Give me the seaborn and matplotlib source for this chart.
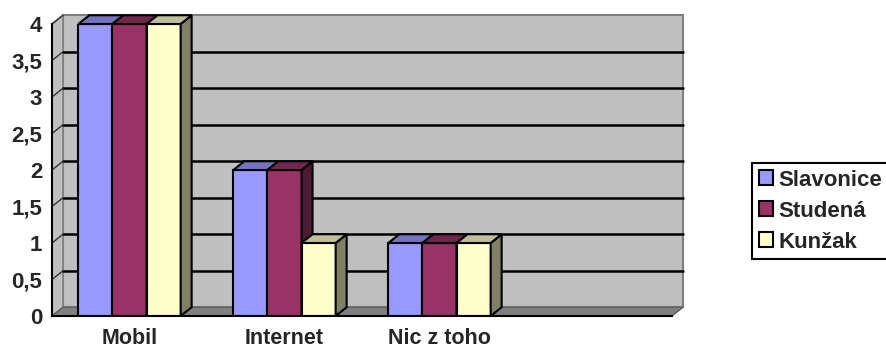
import matplotlib
matplotlib.use("Agg")
import matplotlib.pyplot as plt
import numpy as np
import pandas as pd
import seaborn as sns
from matplotlib.patches import Polygon, Patch
from matplotlib.ticker import FuncFormatter

# data
categories = ["Mobil", "Internet", "Nic z toho", " "]
series = ["Slavonice", "Studená", "Kunžak"]
slavonice = [4, 2, 1]
studena = [4, 2, 1]
kunzak = [4, 1, 1]

front_colors = ["#9999FF", "#993366", "#FFFFCC"]
top_colors = ["#7373BF", "#73264D", "#BFBF99"]
side_colors = ["#4D4D80", "#4D1A33", "#808066"]

rows = []
for name, vals in zip(series, [slavonice, studena, kunzak]):
    for cat, v in zip(categories[:3], vals):
        rows.append({"kategorie": cat, "obec": name, "pocet": v})
df = pd.DataFrame(rows)

sns.set_style("white")
plt.rcParams["font.family"] = ["Liberation Sans", "DejaVu Sans"]
plt.rcParams["font.weight"] = "bold"

fig = plt.figure(figsize=(8.87, 3.49), dpi=100)
ax = fig.add_axes([52 / 887, 33 / 349, 620 / 887, 292 / 349])

sns.barplot(data=df, x="kategorie", y="pocet", hue="obec", order=categories,
            hue_order=series, palette=front_colors, saturation=1, width=0.66, gap=0,
            edgecolor="black", linewidth=1.5, legend=False, ax=ax)

ymax = 4
dx, dy = 0.071, 0.12
x_lo, x_hi = -0.5, len(categories) - 0.5
ax.set_xlim(x_lo, x_hi)
ax.set_ylim(0, ymax)

# walls and floor
back = Polygon([(x_lo + dx, dy), (x_hi + dx, dy), (x_hi + dx, ymax + dy), (x_lo + dx, ymax + dy)],
               closed=True, facecolor="#C0C0C0", edgecolor="#808080", lw=1.5, zorder=0.5, clip_on=False)
left = Polygon([(x_lo, 0), (x_lo + dx, dy), (x_lo + dx, ymax + dy), (x_lo, ymax)],
               closed=True, facecolor="#C0C0C0", edgecolor="#808080", lw=1.2, zorder=0.6, clip_on=False)
floor = Polygon([(x_lo, 0), (x_hi, 0), (x_hi + dx, dy), (x_lo + dx, dy)],
                closed=True, facecolor="#808080", edgecolor="#606060", lw=1, zorder=0.7, clip_on=False)
for p in (back, left, floor):
    ax.add_patch(p)

yticks = np.arange(0, ymax + 0.01, 0.5)
for y in yticks[1:-1]:
    ax.plot([x_lo + dx, x_hi + dx], [y + dy, y + dy], color="black", lw=1.8, zorder=0.8, clip_on=False)
for y in yticks[1:]:
    ax.plot([x_lo, x_lo + dx], [y, y + dy], color="#333333", lw=1, zorder=0.8, clip_on=False)

# 3d faces of the bars
bars = [b for b in ax.patches if isinstance(b, matplotlib.patches.Rectangle)
        and np.isfinite(b.get_height()) and b.get_height() > 0]
bars.sort(key=lambda b: b.get_x())
for i, b in enumerate(bars):
    x0, w, h = b.get_x(), b.get_width(), b.get_height()
    fc = matplotlib.colors.to_hex(b.get_facecolor()).upper()
    k = front_colors.index(fc) if fc in front_colors else i % 3
    z = 2 + i
    b.set_zorder(z)
    top = Polygon([(x0, h), (x0 + dx, h + dy), (x0 + w + dx, h + dy), (x0 + w, h)], closed=True,
                  facecolor=top_colors[k], edgecolor="black", lw=1.5, zorder=z, clip_on=False)
    side = Polygon([(x0 + w, 0), (x0 + w + dx, dy), (x0 + w + dx, h + dy), (x0 + w, h)], closed=True,
                   facecolor=side_colors[k], edgecolor="black", lw=1.5, zorder=z, clip_on=False)
    ax.add_patch(side)
    ax.add_patch(top)

# axes
for s in ["top", "right"]:
    ax.spines[s].set_visible(False)
for s in ["left", "bottom"]:
    ax.spines[s].set_color("black")
    ax.spines[s].set_linewidth(1.5)
    ax.spines[s].set_zorder(20)
ax.set_yticks(yticks)
ax.yaxis.set_major_formatter(FuncFormatter(lambda v, p: f"{v:g}".replace(".", ",")))
ax.tick_params(axis="y", direction="out", length=5, width=1.5, color="black", pad=2, labelsize=16)
ax.set_xticks(range(len(categories)))
ax.set_xticklabels(categories)
ax.set_xticks(np.arange(x_lo, x_hi + 0.01, 1), minor=True)
ax.tick_params(axis="x", which="major", length=0, pad=9, labelsize=15.5)
ax.tick_params(axis="x", which="minor", direction="out", length=5, width=1.5, color="black")
ax.set_xlabel("")
ax.set_ylabel("")
for t in ax.get_xticklabels() + ax.get_yticklabels():
    t.set_fontweight("bold")

handles = [Patch(facecolor=c, edgecolor="black", lw=1.5) for c in front_colors]
leg = fig.legend(handles, series, loc="upper left", bbox_to_anchor=(752 / 887, 1 - 163 / 349),
                 frameon=True, fancybox=False, edgecolor="black", framealpha=1,
                 prop={"weight": "bold", "size": 16}, handlelength=0.65, handleheight=0.65,
                 handletextpad=0.25, labelspacing=0.45, borderpad=0.3, borderaxespad=0)
leg.get_frame().set_linewidth(1.5)

fig.savefig("out.png", dpi=100)
